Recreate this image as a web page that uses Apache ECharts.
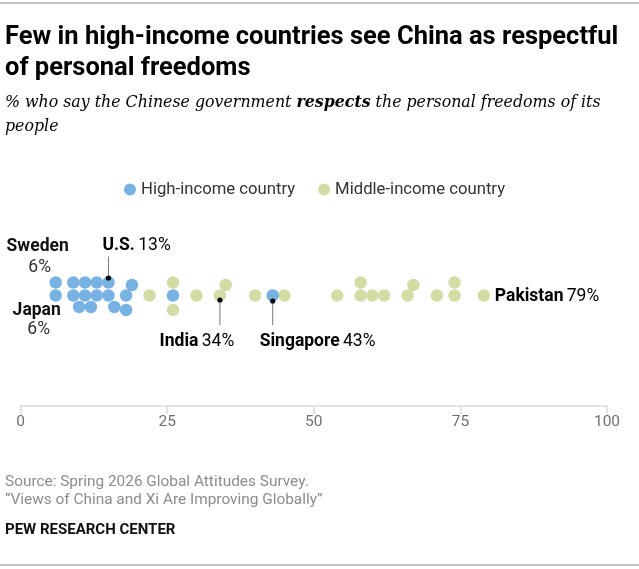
<!DOCTYPE html>
<html>
<head>
<meta charset="utf-8">
<script src="https://cdn.jsdelivr.net/npm/echarts@6/dist/echarts.min.js"></script>
<style>
html,body{margin:0;padding:0;background:#fff;}
#c{width:639px;height:569px;}
</style>
</head>
<body>
<div id="c"></div>
<script>
// ---- Data ----
const xTicks = [0, 25, 50, 75, 100];
// High-income countries: horizontal position (%) and swarm row offset
const highX = [6, 9, 11, 13, 15, 6, 9, 11, 13, 15, 18, 10, 12, 16, 18, 19, 26, 43];
const highRow = [13, 13, 13, 13, 13, 0, 0, 0, 0, 0, 0, -11.5, -11.5, -11.5, -14.5, 10.5, 0, 0];
// Middle-income countries
const midX = [22, 26, 26, 30, 34, 35, 40, 45, 54, 58, 58, 60, 62, 66, 67, 71, 74, 74, 79];
const midRow = [0, 13, -14.5, 0, 0, 10.5, 0, 0, 0, 13, 0, 0, 0, 0, 10.5, 0, 13, 0, 0];
// Labelled countries
const annoNames = ['Sweden', 'Japan', 'U.S.', 'India', 'Singapore', 'Pakistan'];
const annoPct = [6, 6, 13, 34, 43, 79];
const annoX = [6, 6, 15, 34, 43, 79];
const annoRow = [13, 0, 13, 0, 0, 0];

const BODY = "Roboto,'Liberation Sans',sans-serif";
const BLUE = '#78B2E2';
const GREEN = '#D4DCA6';

const chart = echarts.init(document.getElementById('c'), null, {renderer: 'canvas'});

const highData = highX.map((x, i) => [x, highRow[i]]);
const midData = midX.map((x, i) => [x, midRow[i]]);
const annoData = annoNames.map((n, i) => [annoX[i], annoRow[i], n, annoPct[i]]);

// label layout styles per annotation
const annoStyle = {
  'Sweden':    {type: 'stack', nameDx: -18, nameDy: -36, pctDx: -16, pctDy: -15},
  'Japan':     {type: 'stack', nameDx: -19, nameDy: 15.5, pctDx: -17, pctDy: 34.5},
  'U.S.':      {type: 'up', dotDy: -4.5, lineEnd: -26, textDx: -6, textDy: -37, align: 'left'},
  'India':     {type: 'down', dotDy: 4.5, lineEnd: 29.5, textDx: -23, textDy: 46, align: 'center'},
  'Singapore': {type: 'down', dotDy: 5.5, lineEnd: 29.5, textDx: -13, textDy: 46, align: 'left'},
  'Pakistan':  {type: 'right', textDx: 11, textDy: 1, align: 'left'}
};

const AF = 17.5;
const rich = {
  b: {fontFamily: BODY, fontWeight: 'bold', fontSize: AF, color: '#111'},
  n: {fontFamily: BODY, fontWeight: 'normal', fontSize: AF, color: '#333'}
};

function renderAnno(params, api) {
  const name = api.value(2);
  const pct = api.value(3);
  const p = api.coord([api.value(0), api.value(1)]);
  const s = annoStyle[name];
  const children = [];
  if (s.type === 'stack') {
    children.push({type: 'text', style: {text: name, x: p[0] + s.nameDx, y: p[1] + s.nameDy, align: 'center', verticalAlign: 'middle', font: 'bold ' + AF + 'px ' + BODY, fill: '#111'}});
    children.push({type: 'text', style: {text: pct + '%', x: p[0] + s.pctDx, y: p[1] + s.pctDy, align: 'center', verticalAlign: 'middle', font: AF + 'px ' + BODY, fill: '#333'}});
  } else {
    if (s.type === 'up' || s.type === 'down') {
      children.push({type: 'line', shape: {x1: p[0], y1: p[1] + s.dotDy, x2: p[0], y2: p[1] + s.lineEnd}, style: {stroke: '#7a7a7a', lineWidth: 1}});
      children.push({type: 'circle', shape: {cx: p[0], cy: p[1] + s.dotDy, r: 2.6}, style: {fill: '#000'}});
    }
    children.push({type: 'text', style: {text: '{b|' + name + '} {n|' + pct + '%}', rich: rich, x: p[0] + s.textDx, y: p[1] + s.textDy, align: s.align, verticalAlign: 'middle'}});
  }
  return {type: 'group', children: children};
}

const option = {
  backgroundColor: '#fff',
  animation: false,
  grid: {left: 20.5, right: 32, top: 275.5, bottom: 163.5, containLabel: false},
  xAxis: {
    type: 'value', min: xTicks[0], max: xTicks[xTicks.length - 1], interval: 25,
    axisLine: {show: true, onZero: false, lineStyle: {color: '#dcdcdc', width: 1.5}},
    axisTick: {show: true, length: 9, lineStyle: {color: '#dcdcdc', width: 1.5}},
    axisLabel: {color: '#6f6f6f', fontSize: 15.5, fontFamily: BODY, margin: 9,
      formatter: v => xTicks.indexOf(v) >= 0 ? String(v) : ''},
    splitLine: {show: false}
  },
  yAxis: {type: 'value', min: -110, max: 20, show: false},
  legend: {
    data: ['High-income country', 'Middle-income country'],
    icon: 'circle', itemWidth: 12, itemHeight: 12, itemGap: 23,
    left: 119, top: 176,
    textStyle: {fontSize: 16.7, color: '#333', fontFamily: BODY}
  },
  series: [
    {name: 'Middle-income country', type: 'scatter', data: midData, symbolSize: 12.5,
      itemStyle: {color: GREEN, opacity: 1}, z: 2},
    {name: 'High-income country', type: 'scatter', data: highData, symbolSize: 12.5,
      itemStyle: {color: BLUE, opacity: 1}, z: 3},
    {name: 'annotations', type: 'custom', data: annoData, renderItem: renderAnno, z: 5, silent: true}
  ],
  graphic: [
    {type: 'line', shape: {x1: 0, y1: 3, x2: 639, y2: 3}, style: {stroke: '#8c8c8c', lineWidth: 1}},
    {type: 'text', left: 5, top: 22, style: {text: 'Few in high-income countries see China as respectful\nof personal freedoms', font: 'bold 25.5px ' + BODY, fill: '#000', lineHeight: 31}},
    {type: 'text', left: 5, top: 91, style: {
      text: '{i|% who say the Chinese government }{bi|respects}{i| the personal freedoms of its}\n{i|people}',
      lineHeight: 24,
      rich: {
        i: {fontFamily: '"DejaVu Serif",serif', fontStyle: 'italic', fontSize: 15.8, color: '#666', lineHeight: 24},
        bi: {fontFamily: '"DejaVu Serif",serif', fontStyle: 'italic', fontWeight: 'bold', fontSize: 15.8, color: '#555', lineHeight: 24}
      }}},
    {type: 'text', left: 5, top: 473, style: {text: 'Source: Spring 2026 Global Attitudes Survey.\n\u201cViews of China and Xi Are Improving Globally\u201d', font: '15.4px ' + BODY, fill: '#8c8c8c', lineHeight: 18}},
    {type: 'text', left: 5, top: 523, style: {text: 'PEW RESEARCH CENTER', font: 'bold 15px ' + BODY, fill: '#111'}},
    {type: 'line', shape: {x1: 0, y1: 565, x2: 639, y2: 565}, style: {stroke: '#8c8c8c', lineWidth: 1}}
  ]
};
chart.setOption(option);
</script>
</body>
</html>
